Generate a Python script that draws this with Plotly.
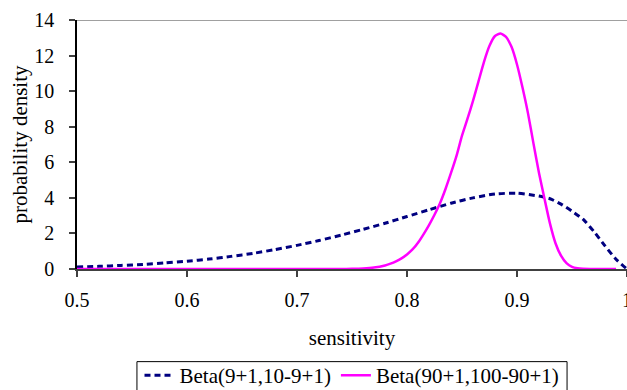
import plotly.graph_objects as go

# Beta(9+1,10-9+1) density, sampled along sensitivity
x_small = [0.50, 0.52, 0.54, 0.56, 0.58, 0.60, 0.62, 0.64, 0.66, 0.68, 0.70,
           0.72, 0.74, 0.76, 0.78, 0.80, 0.82, 0.84, 0.86, 0.88, 0.90, 0.92,
           0.93, 0.94, 0.95, 0.96, 0.97, 0.98, 0.99, 1.00]
y_small = [0.11, 0.15, 0.20, 0.26, 0.34, 0.44, 0.56, 0.71, 0.88, 1.09, 1.33,
           1.60, 1.90, 2.23, 2.57, 2.95, 3.33, 3.70, 4.00, 4.22, 4.26, 4.10,
           3.95, 3.65, 3.25, 2.80, 2.10, 1.30, 0.55, 0.00]

# Beta(90+1,100-90+1) density
x_large = [0.50, 0.55, 0.60, 0.65, 0.70, 0.72, 0.74, 0.75, 0.76, 0.77, 0.78,
           0.785, 0.790, 0.795, 0.800, 0.805, 0.810, 0.815, 0.820, 0.825,
           0.830, 0.835, 0.840, 0.845, 0.850, 0.855, 0.860, 0.865, 0.870,
           0.875, 0.880, 0.885, 0.890, 0.895, 0.900, 0.905, 0.910, 0.915,
           0.920, 0.925, 0.930, 0.935, 0.940, 0.945, 0.950, 0.955, 0.960,
           0.970, 0.980, 0.990]
y_large = [0.0, 0.0, 0.0, 0.0, 0.0, 0.0, 0.0, 0.01, 0.03, 0.08, 0.20,
           0.30, 0.43, 0.60, 0.82, 1.10, 1.48, 1.95, 2.47, 3.05,
           3.70, 4.50, 5.40, 6.36, 7.50, 8.45, 9.45, 10.55, 11.65,
           12.55, 13.10, 13.24, 13.05, 12.49, 11.50, 10.20, 8.75, 7.05,
           5.40, 3.95, 2.55, 1.45, 0.75, 0.33, 0.12, 0.04, 0.01,
           0.0, 0.0, 0.0]

x_ticks = [0.5, 0.6, 0.7, 0.8, 0.9, 1.0]
x_tick_text = ["0.5", "0.6", "0.7", "0.8", "0.9", "1"]
y_ticks = [0, 2, 4, 6, 8, 10, 12, 14]

FONT = "Liberation Serif, serif"
TICK = dict(family=FONT, size=20, color="black")
TITLE = dict(family=FONT, size=21, color="black")

fig = go.Figure()
fig.add_trace(go.Scatter(
    x=x_small, y=y_small, mode="lines", name="Beta(9+1,10-9+1)",
    line=dict(color="#000080", width=3, dash="6px,4px", shape="spline", smoothing=0.6),
))
fig.add_trace(go.Scatter(
    x=x_large, y=y_large, mode="lines", name="Beta(90+1,100-90+1)",
    line=dict(color="#FF00FF", width=2.5, shape="spline", smoothing=0.6),
))

# grey frame line along the top of the plot area
fig.add_shape(type="line", xref="paper", yref="y", x0=0, x1=1, y0=14, y1=14,
              line=dict(color="#808080", width=1.5))
# frame around the legend, running off the bottom edge of the page
fig.add_shape(type="rect", xref="paper", yref="paper",
              x0=0.109, x1=0.891, y0=-0.372, y1=-0.52,
              line=dict(color="black", width=1), fillcolor="rgba(0,0,0,0)")

fig.update_layout(
    width=627, height=390,
    margin=dict(l=77, r=0, t=20, b=121, autoexpand=False),
    paper_bgcolor="white", plot_bgcolor="white",
    font=dict(family=FONT, size=20, color="black"),
    showlegend=True,
    legend=dict(
        orientation="h", x=0.5, xanchor="center", y=-0.428, yanchor="middle",
        bgcolor="rgba(0,0,0,0)", borderwidth=0,
        font=dict(family=FONT, size=21, color="black"),
        itemwidth=30, tracegroupgap=0,
    ),
    xaxis=dict(
        range=[0.5, 1.0], tickvals=x_ticks, ticktext=x_tick_text,
        showgrid=False, zeroline=False,
        showline=True, linecolor="#404040", linewidth=2,
        ticks="outside", ticklen=6, tickcolor="#404040", tickwidth=1.5,
        ticklabelstandoff=6, ticklabeloverflow="allow",
        title=dict(text="sensitivity", standoff=20, font=TITLE),
        tickfont=TICK,
    ),
    yaxis=dict(
        range=[0, 14], tickvals=y_ticks,
        showgrid=False, zeroline=False,
        showline=True, linecolor="black", linewidth=1.5,
        ticks="outside", ticklen=6, tickcolor="#404040", tickwidth=1.5,
        ticklabelstandoff=11,
        title=dict(text="probability density", standoff=1, font=TITLE),
        tickfont=TICK,
    ),
)

fig.write_html("out.html")
